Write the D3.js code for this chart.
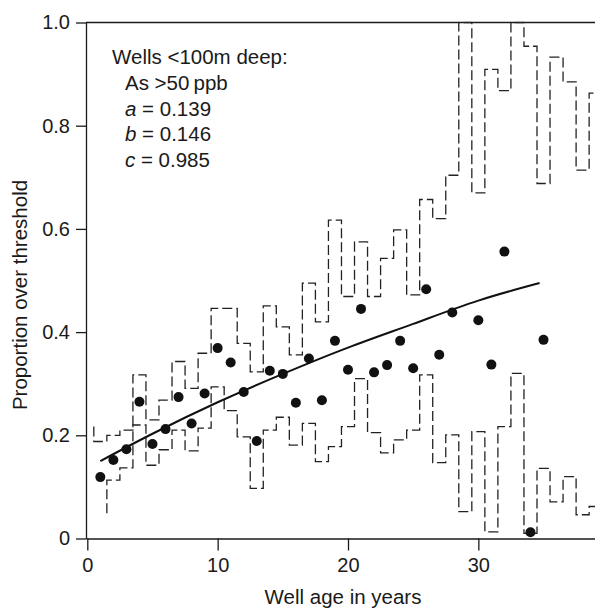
<!DOCTYPE html>
<html>
<head>
<meta charset="utf-8">
<script src="https://cdnjs.cloudflare.com/ajax/libs/d3/7.8.5/d3.min.js"></script>
<style>
    body { margin: 0; background: #fff; }
    svg text { font-family: "Liberation Sans", Arial, Helvetica, sans-serif; fill: #1a1a1a; }
</style>
</head>
<body>
<div id="chart"></div>
<script>
// Observed proportion over threshold per well age (no dot for years 29 and 33)
const dotYears = [1, 2, 3, 4, 5, 6, 7, 8, 9, 10, 11, 12, 13, 14, 15, 16, 17, 18, 19, 20,
    21, 22, 23, 24, 25, 26, 27, 28, 30, 31, 32, 34, 35];
const proportions = [0.119, 0.152, 0.173, 0.265, 0.183, 0.212, 0.274, 0.223, 0.281, 0.369,
    0.341, 0.284, 0.189, 0.325, 0.319, 0.263, 0.349, 0.268, 0.383, 0.327,
    0.445, 0.322, 0.336, 0.383, 0.330, 0.483, 0.356, 0.438, 0.423, 0.337, 0.556, 0.012, 0.385];

// Dashed step bands, one value per year
const bandYears = [1, 2, 3, 4, 5, 6, 7, 8, 9, 10, 11, 12, 13, 14, 15, 16, 17, 18, 19, 20,
    21, 22, 23, 24, 25, 26, 27, 28, 29, 30, 31, 32, 33, 34, 35, 36, 37, 38, 39];
const upperStart = 0.217;
const upper = [0.188, 0.200, 0.210, 0.317, 0.230, 0.268, 0.343, 0.291, 0.359, 0.446,
    0.446, 0.378, 0.323, 0.451, 0.410, 0.356, 0.495, 0.420, 0.617, 0.469,
    0.575, 0.469, 0.543, 0.598, 0.472, 0.657, 0.620, 0.704, 1.0, 0.670,
    0.909, 0.868, 1.0, 0.954, 0.688, 0.933, 0.885, 0.714, 0.863];
const lower = [0.049, 0.113, 0.137, 0.220, 0.142, 0.172, 0.210, 0.170, 0.214, 0.294,
    0.248, 0.197, 0.097, 0.210, 0.235, 0.181, 0.223, 0.149, 0.178, 0.217,
    0.310, 0.205, 0.166, 0.191, 0.210, 0.317, 0.147, 0.201, 0.052, 0.207,
    0.013, 0.217, 0.320, 0.010, 0.136, 0.071, 0.120, 0.046, 0.062];

// Fitted curve
const fitYears = [1, 5, 10, 15, 20, 25, 30, 34.7];
const fitValues = [0.150, 0.203, 0.264, 0.319, 0.370, 0.416, 0.461, 0.495];

const yTicks = [0, 0.2, 0.4, 0.6, 0.8, 1.0];
const xTicks = [0, 10, 20, 30];
const legendLines = ["Wells <100m deep:", "As >50\u2009ppb"];
const params = [["a", "0.139"], ["b", "0.146"], ["c", "0.985"]];

const width = 595, height = 610;
const margin = { top: 22.5, right: 0, bottom: 71.5, left: 86 };

const svg = d3.select("#chart")
    .append("svg")
    .attr("width", width)
    .attr("height", height);

const x = d3.scaleLinear()
    .domain([-0.1, 38.95])
    .range([margin.left, width - margin.right]);

const y = d3.scaleLinear()
    .domain([0, 1])
    .range([height - margin.bottom, margin.top]);

svg.append("clipPath")
    .attr("id", "plot-clip")
    .append("rect")
    .attr("x", margin.left)
    .attr("y", margin.top - 1)
    .attr("width", width - margin.left)
    .attr("height", height - margin.bottom - margin.top + 1);

// Axes
svg.append("g")
    .attr("transform", `translate(${margin.left},0)`)
    .call(d3.axisLeft(y)
        .tickValues(yTicks)
        .tickSize(10)
        .tickSizeOuter(0)
        .tickPadding(6)
        .tickFormat(d => d === 0 ? "0" : d.toFixed(1)));

svg.append("g")
    .attr("transform", `translate(0,${height - margin.bottom})`)
    .call(d3.axisBottom(x)
        .tickValues(xTicks)
        .tickSize(12)
        .tickSizeOuter(0)
        .tickPadding(7));

svg.selectAll(".tick text").attr("font-size", 20).style("font-family", null);
svg.selectAll(".domain, .tick line").attr("stroke", "#1a1a1a").attr("stroke-width", 1.3);

// top border
svg.append("line")
    .attr("x1", margin.left).attr("x2", width)
    .attr("y1", y(1)).attr("y2", y(1))
    .attr("stroke", "#1a1a1a")
    .attr("stroke-width", 1.3);

// Step bands
const step = d3.line()
    .x(d => x(d[0]))
    .y(d => y(d[1]))
    .curve(d3.curveStepAfter);

function stepPoints(values) {
    const pts = bandYears.map((yr, i) => [yr - 0.5, values[i]]);
    pts.push([bandYears[bandYears.length - 1] + 0.5, values[values.length - 1]]);
    return pts;
}

const upperPts = [[0.5, upperStart]].concat(stepPoints(upper));
const lowerPts = stepPoints(lower);
lowerPts[0][0] = 1.5; // lower band enters with its first riser

const plot = svg.append("g").attr("clip-path", "url(#plot-clip)");

plot.selectAll("path.band")
    .data([upperPts, lowerPts])
    .enter()
    .append("path")
    .attr("class", "band")
    .attr("d", step)
    .attr("fill", "none")
    .attr("stroke", "#222")
    .attr("stroke-width", 1.3)
    .attr("stroke-dasharray", "10,4");

// Fitted curve
plot.append("path")
    .datum(fitYears.map((d, i) => [d, fitValues[i]]))
    .attr("d", d3.line().x(d => x(d[0])).y(d => y(d[1])).curve(d3.curveNatural))
    .attr("fill", "none")
    .attr("stroke", "#111")
    .attr("stroke-width", 2);

// Dots
plot.selectAll("circle")
    .data(dotYears.map((d, i) => ({ year: d, p: proportions[i] })))
    .enter()
    .append("circle")
    .attr("cx", d => x(d.year))
    .attr("cy", d => y(d.p))
    .attr("r", 5)
    .attr("fill", "#111");

// Legend text
const legend = svg.append("g").attr("font-size", 20.5);

legend.append("text")
    .attr("x", 112)
    .attr("y", 64)
    .text(legendLines[0]);

legend.append("text")
    .attr("x", 125)
    .attr("y", 90)
    .text(legendLines[1]);

params.forEach((p, i) => {
    const t = legend.append("text")
        .attr("x", 125)
        .attr("y", 115.5 + i * 25.7);
    t.append("tspan").attr("font-style", "italic").text(p[0]);
    t.append("tspan").text(" = " + p[1]);
});

// Axis labels
svg.append("text")
    .attr("text-anchor", "middle")
    .attr("x", 343)
    .attr("y", 604)
    .attr("font-size", 20.5)
    .text("Well age in years");

svg.append("text")
    .attr("text-anchor", "middle")
    .attr("transform", "rotate(-90)")
    .attr("x", -295)
    .attr("y", 27)
    .attr("font-size", 20.5)
    .text("Proportion over threshold");
</script>
</body>
</html>
